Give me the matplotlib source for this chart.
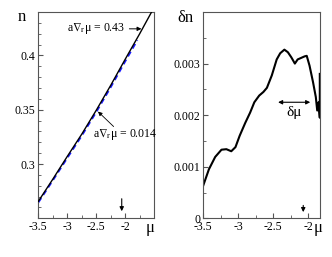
import numpy as np
import matplotlib
matplotlib.use("Agg")
import matplotlib.pyplot as plt
from matplotlib.ticker import MultipleLocator, FixedLocator

plt.rcParams['font.family'] = ['Liberation Serif', 'DejaVu Serif']
plt.rcParams['mathtext.fontset'] = 'stix'
plt.rcParams['axes.unicode_minus'] = False

# left panel: n(mu)
mu_n = [-3.5, -3.25, -3.0, -2.75, -2.5, -2.25, -2.0, -1.75, -1.545]
n_black = [0.2656, 0.286, 0.307, 0.3275, 0.3495, 0.3725, 0.3965, 0.42, 0.44]
mu_blue = [-3.5, -3.25, -3.0, -2.75, -2.5, -2.25, -2.0, -1.79]
n_blue = [0.2645, 0.2848, 0.3055, 0.326, 0.3478, 0.3707, 0.3945, 0.414]

# right panel: delta n(mu)
mu_dn = [-3.5, -3.42, -3.33, -3.24, -3.17, -3.10, -3.04, -2.98, -2.90, -2.83,
         -2.77, -2.70, -2.64, -2.59, -2.52, -2.45, -2.40, -2.34, -2.29, -2.24,
         -2.19, -2.15, -2.10, -2.05, -2.02, -1.98, -1.93, -1.89, -1.87, -1.85,
         -1.833, -1.833]
dn = [0.00064, 0.00095, 0.00119, 0.00133, 0.00134, 0.0013, 0.00138, 0.00160, 0.00185, 0.00205,
      0.00225, 0.00238, 0.00245, 0.00253, 0.00277, 0.00308, 0.0032, 0.00327, 0.00322, 0.00312,
      0.00300, 0.00308, 0.00311, 0.00314, 0.00315, 0.00296, 0.00264, 0.00235, 0.00209, 0.00225,
      0.00195, 0.0028]

mu_mark = -2.06

fig = plt.figure(figsize=(3.32, 2.57), dpi=100)
ax1 = fig.add_axes([0.1154, 0.1506, 0.349, 0.8027])
ax2 = fig.add_axes([0.6124, 0.1506, 0.3515, 0.8027])

frame = '#555555'
for ax in (ax1, ax2):
    for s in ax.spines.values():
        s.set_color(frame)
        s.set_linewidth(0.8)
    ax.tick_params(which='both', direction='in', top=False, right=False,
                   color=frame, labelsize=8.5, pad=2)
    ax.tick_params(which='major', length=3.5)
    ax.tick_params(which='minor', length=2)
    ax.xaxis.set_major_locator(FixedLocator([-3.5, -3, -2.5, -2]))
    ax.xaxis.set_minor_locator(MultipleLocator(0.25))
    ax.xaxis.set_major_formatter(plt.FuncFormatter(lambda v, p: '%g' % v))

lab1 = 'a$\\nabla_\\mathrm{r}$\u03bc = 0.43'
lab2 = 'a$\\nabla_\\mathrm{r}$\u03bc = 0.014'

# left
ax1.plot(mu_n, n_black, color='black', lw=1.0, zorder=3)
ax1.plot(mu_blue, n_blue, color='#1a1aff', lw=1.3, dashes=(3, 2), zorder=2)
ax1.set_xlim(-3.5, -1.5)
ax1.set_ylim(0.25, 0.44)
ax1.yaxis.set_major_locator(FixedLocator([0.3, 0.35, 0.4]))
ax1.yaxis.set_minor_locator(MultipleLocator(0.01))
ax1.yaxis.set_major_formatter(plt.FuncFormatter(lambda v, p: '%g' % v))
ax1.annotate(lab1, xy=(-1.72, 0.4245), xytext=(-2.0, 0.4245),
             ha='right', va='center', fontsize=8.5,
             arrowprops=dict(arrowstyle='-|>', color='black', lw=0.7,
                             mutation_scale=6, shrinkA=1, shrinkB=0))
ax1.text(-2.55, 0.327, lab2, ha='left', va='center', fontsize=8.5)
ax1.annotate('', xy=(-2.47, 0.3483), xytext=(-2.2, 0.3345),
             arrowprops=dict(arrowstyle='-|>', color='black', lw=0.6,
                             mutation_scale=6, shrinkA=0, shrinkB=0))
ax1.annotate('', xy=(mu_mark, 0.2565), xytext=(mu_mark, 0.268),
             arrowprops=dict(arrowstyle='-|>', color='black', lw=0.8,
                             mutation_scale=6, shrinkA=0, shrinkB=0))

# right
ax2.plot(mu_dn, dn, color='black', lw=1.5, clip_on=True)
ax2.set_xlim(-3.5, -1.83)
ax2.set_ylim(0, 0.004)
ax2.yaxis.set_major_locator(FixedLocator([0, 0.001, 0.002, 0.003]))
ax2.yaxis.set_minor_locator(MultipleLocator(0.0005))
ax2.yaxis.set_major_formatter(plt.FuncFormatter(lambda v, p: '%g' % v))
ax2.annotate('', xy=(-2.43, 0.00225), xytext=(-1.97, 0.00225),
             arrowprops=dict(arrowstyle='<|-|>', color='black', lw=0.8,
                             mutation_scale=6, shrinkA=0, shrinkB=0))
ax2.text(-2.2, 0.00205, '\u03b4\u03bc', ha='center', va='center', fontsize=11)
ax2.annotate('', xy=(-2.07, 0.00012), xytext=(-2.07, 0.00025),
             arrowprops=dict(arrowstyle='-|>', color='black', lw=0.8,
                             mutation_scale=6, shrinkA=0, shrinkB=0))

# axis labels placed like in the original
fig.text(22 / 332, 1 - 17 / 257, 'n', fontsize=12, ha='center', va='center')
fig.text(150 / 332, 1 - 228 / 257, '\u03bc', fontsize=12, ha='center', va='center')
fig.text(185 / 332, 1 - 18 / 257, '\u03b4n', fontsize=12, ha='center', va='center')
fig.text(318 / 332, 1 - 228 / 257, '\u03bc', fontsize=12, ha='center', va='center')

fig.savefig('out.png', dpi=100)
